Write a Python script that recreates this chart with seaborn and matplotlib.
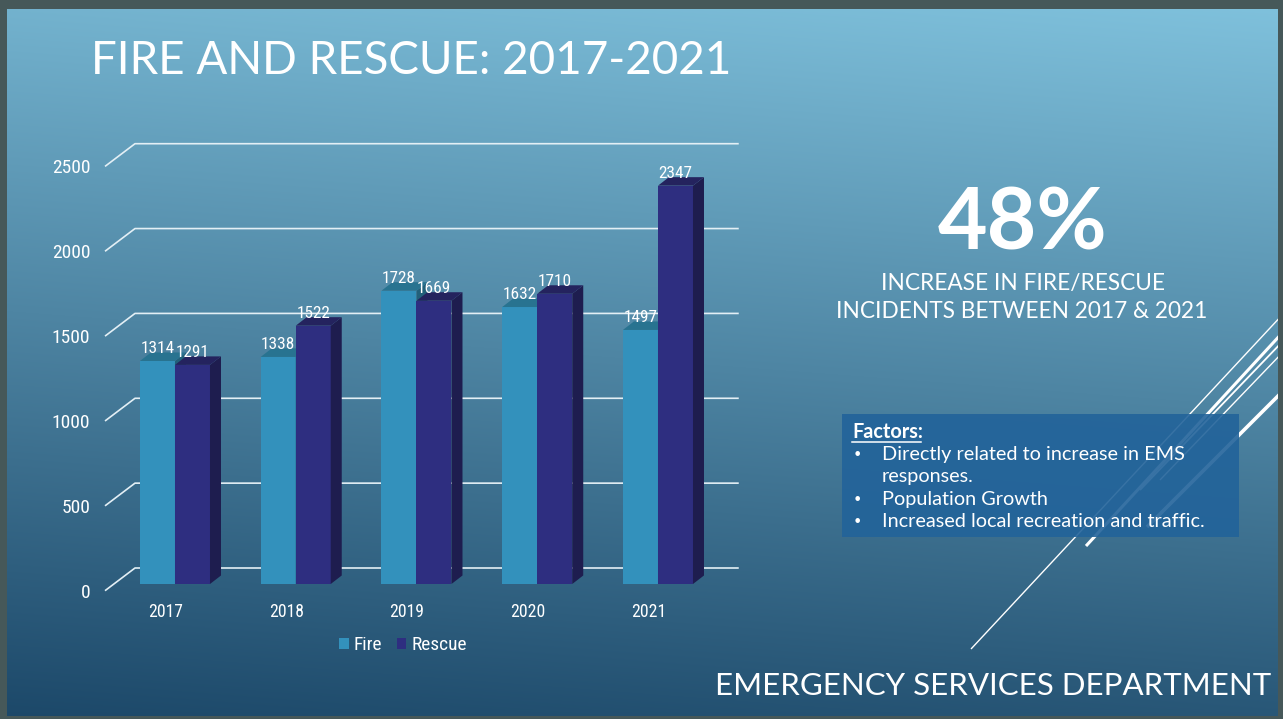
import numpy as np
import pandas as pd
import matplotlib
matplotlib.use("Agg")
import matplotlib.pyplot as plt
import seaborn as sns
from matplotlib import font_manager
from matplotlib.transforms import ScaledTranslation
from matplotlib.patches import Polygon, Rectangle

# ---------------- data ----------------
years = ["2017", "2018", "2019", "2020", "2021"]
fire = [1314, 1338, 1728, 1632, 1497]
rescue = [1291, 1522, 1669, 1710, 2347]
series = ["Fire", "Rescue"]
y_ticks = [0, 500, 1000, 1500, 2000, 2500]

title = "FIRE AND RESCUE: 2017-2021"
big_stat = "48%"
stat_lines = ["INCREASE IN FIRE/RESCUE", "INCIDENTS BETWEEN 2017 & 2021"]
factors_head = "Factors:"
factors_items = [["Directly related to increase in EMS", "responses."],
                 ["Population Growth"],
                 ["Increased local recreation and traffic."]]
footer = "EMERGENCY SERVICES DEPARTMENT"

# ---------------- styling ----------------
W, H = 1283, 719
FIRE_C, FIRE_TOP, FIRE_SIDE = "#3391bc", "#287390", "#22607a"
RESC_C, RESC_TOP, RESC_SIDE = "#2e2e80", "#24235e", "#1e1d4f"
GRID_C = "#e3eff5"
BORDER_C = "#465859"
BOX_C = "#22639a"

avail = {f.name for f in font_manager.fontManager.ttflist}


def pick(*names):
    for n in names:
        if n in avail:
            return n
    return "DejaVu Sans"


NARROW = pick("Liberation Sans Narrow", "Roboto Condensed", "Roboto", "Lato")
THIN = pick("Lato", "Open Sans", "Roboto")
plt.rcParams["font.family"] = [THIN, "DejaVu Sans"]

fig = plt.figure(figsize=(W / 100, H / 100), dpi=100)
renderer = fig.canvas.get_renderer()

# ---------------- slide background ----------------
bg = fig.add_axes([0, 0, 1, 1], zorder=0)
bg.set_xlim(0, W)
bg.set_ylim(H, 0)
bg.axis("off")
yy, xx = np.mgrid[0:1:300j, 0:1:400j]
t = 0.88 * (1 - yy) + 0.12 * xx
dark = np.array([0x1c, 0x48, 0x69]) / 255
light = np.array([0x80, 0xc2, 0xdd]) / 255
img = dark + np.clip(t, 0, 1)[..., None] * (light - dark)
bg.imshow(img, extent=(0, W, H, 0), aspect="auto", interpolation="bilinear", zorder=0)

# decorative diagonal lines
deco = [((971, 649), (1284, 313), 1.0),
        ((1086, 546), (1284, 331), 2.2),
        ((1140, 490), (1284, 340), 1.3),
        ((1160, 480), (1284, 351), 1.0),
        ((1147, 527), (1284, 390), 2.6)]
for (x0, y0), (x1, y1), lw in deco:
    bg.plot([x0, x1], [y0, y1], color="white", lw=lw, zorder=2, solid_capstyle="butt")

# factors box
bg.add_patch(Rectangle((842, 414), 397, 123, fc=BOX_C, ec="none", alpha=0.9, zorder=3))


def fit(txt, target_w):
    bb = txt.get_window_extent(renderer)
    txt.set_fontsize(txt.get_fontsize() * target_w / bb.width)
    return txt.get_fontsize()


def size_for(s, family, target_w, weight="normal"):
    tt = fig.text(0, 0, s, fontsize=10, family=family, weight=weight)
    w = tt.get_window_extent(renderer).width
    tt.remove()
    return 10 * target_w / w


# title
tt = bg.text(91, 74, title, color="white", fontsize=34, weight="normal",
             ha="left", va="baseline", zorder=5)
fit(tt, 642)

# big stat
st = bg.text(1023, 250, big_stat, color="white", fontsize=60, weight="bold",
             ha="center", va="baseline", zorder=5)
fit(st, 170)

s2 = bg.text(1022, 318, stat_lines[1], color="white", fontsize=17,
             ha="center", va="baseline", zorder=5)
fs = fit(s2, 369)
bg.text(1023, 290, stat_lines[0], color="white", fontsize=fs,
        ha="center", va="baseline", zorder=5)

# factors text
fh = bg.text(852, 438, factors_head, color="white", fontsize=13, weight="bold",
             ha="left", va="baseline", zorder=5)
bg.plot([852, 921], [441.5, 441.5], color="white", lw=1.1, zorder=5)
probe = bg.text(882, 460, factors_items[0][0], color="white", fontsize=13,
                ha="left", va="baseline", zorder=5)
fsz = fit(probe, 303)
probe.remove()
fh.set_fontsize(fsz)
baseline = 460
for item in factors_items:
    bg.text(853, baseline, "\u2022", color="white", fontsize=fsz * 0.8,
            ha="left", va="baseline", zorder=5, family="DejaVu Sans")
    for line in item:
        bg.text(882, baseline, line, color="white", fontsize=fsz,
                ha="left", va="baseline", zorder=5)
        baseline += 22.3

# footer
ft = bg.text(715, 695, footer, color="white", fontsize=22, weight="normal",
             ha="left", va="baseline", zorder=5)
fit(ft, 552)

# border frame
for rect in [(0, 0, W, 9), (0, 0, 7, H), (1278, 0, 5, H), (0, 716, W, 3)]:
    bg.add_patch(Rectangle(rect[:2], rect[2], rect[3], fc=BORDER_C, ec="none", zorder=10))

# ---------------- chart ----------------
ax = fig.add_axes([114.6 / W, (H - 584) / H, 603.75 / W, 424.3 / H], zorder=1)
ax.patch.set_alpha(0)
df = pd.DataFrame({"Year": years * 2,
                   "Incidents": fire + rescue,
                   "Type": [series[0]] * len(years) + [series[1]] * len(years)})
sns.barplot(data=df, x="Year", y="Incidents", hue="Type", hue_order=series,
            palette=[FIRE_C, RESC_C], width=0.58, saturation=1, errorbar=None,
            linewidth=0, edgecolor="none", ax=ax)
ax.set_xlim(-0.5, len(years) - 0.5)
ax.set_ylim(0, 2500)
for sp in ax.spines.values():
    sp.set_visible(False)
ax.set_xlabel("")
ax.set_ylabel("")

inv = ax.transData.inverted()
DX, DY = 11.0, 8.5
for cont, top_c, side_c, z in zip(ax.containers, [FIRE_TOP, RESC_TOP],
                                  [FIRE_SIDE, RESC_SIDE], [2, 3]):
    for bar in cont:
        bar.set_zorder(z)
        x0, y0, w, h = bar.get_x(), bar.get_y(), bar.get_width(), bar.get_height()
        (px0, py0), (px1, py1) = ax.transData.transform([(x0, y0), (x0 + w, y0 + h)])
        top = [(px0, py1), (px1, py1), (px1 + DX, py1 + DY), (px0 + DX, py1 + DY)]
        side = [(px1, py0), (px1 + DX, py0 + DY), (px1 + DX, py1 + DY), (px1, py1)]
        ax.add_patch(Polygon(inv.transform(side), closed=True, fc=side_c, ec="none",
                             zorder=z, clip_on=False))
        ax.add_patch(Polygon(inv.transform(top), closed=True, fc=top_c, ec="none",
                             zorder=z, clip_on=False))

# back-wall gridlines with perspective diagonals
FRONT = (-9.6, -6.7)
BACK = (20.4, 16.0)
xl, xr = ax.get_xlim()
for v in y_ticks:
    (lx, ly), (rx, ry) = ax.transData.transform([(xl, v), (xr, v)])
    pts = inv.transform([(lx + FRONT[0], ly + FRONT[1]),
                         (lx + BACK[0], ly + BACK[1]),
                         (rx + BACK[0], ry + BACK[1])])
    ax.plot(pts[:, 0], pts[:, 1], color=GRID_C, lw=1.2, zorder=1, clip_on=False,
            solid_capstyle="butt")

# value labels
val_size = size_for("2347", NARROW, 34)
for cont in ax.containers:
    ax.bar_label(cont, labels=[f"{v:.0f}" for v in cont.datavalues], padding=3.5,
                 color="white", fontsize=val_size, family=NARROW, zorder=6)

# ticks
tick_size = size_for("2500", NARROW, 38)
ax.set_yticks(y_ticks)
ax.set_yticklabels([str(v) for v in y_ticks])
ax.tick_params(axis="y", length=0, pad=17.4, labelsize=tick_size, labelcolor="white")
ax.tick_params(axis="x", length=0, pad=14, labelsize=size_for("2017", NARROW, 34.4),
               labelcolor="white")
for lbl in ax.get_yticklabels():
    lbl.set_fontfamily(NARROW)
    lbl.set_transform(lbl.get_transform() +
                      ScaledTranslation(0, FRONT[1] / 100, fig.dpi_scale_trans))
for lbl in ax.get_xticklabels():
    lbl.set_fontfamily(NARROW)
    lbl.set_transform(lbl.get_transform() +
                      ScaledTranslation(FRONT[0] / 100, 0, fig.dpi_scale_trans))

# legend
leg_size = size_for("Rescue", NARROW, 55)
sns.move_legend(ax, "center", bbox_to_anchor=(403 / W, 1 - 645 / H),
                bbox_transform=fig.transFigure, ncol=2, frameon=False, title=None,
                handlelength=0.5, handleheight=0.5, handletextpad=0.25,
                columnspacing=0.75, prop={"family": NARROW, "size": leg_size})
for txt in ax.get_legend().get_texts():
    txt.set_color("white")

fig.savefig("out.png", dpi=100)
